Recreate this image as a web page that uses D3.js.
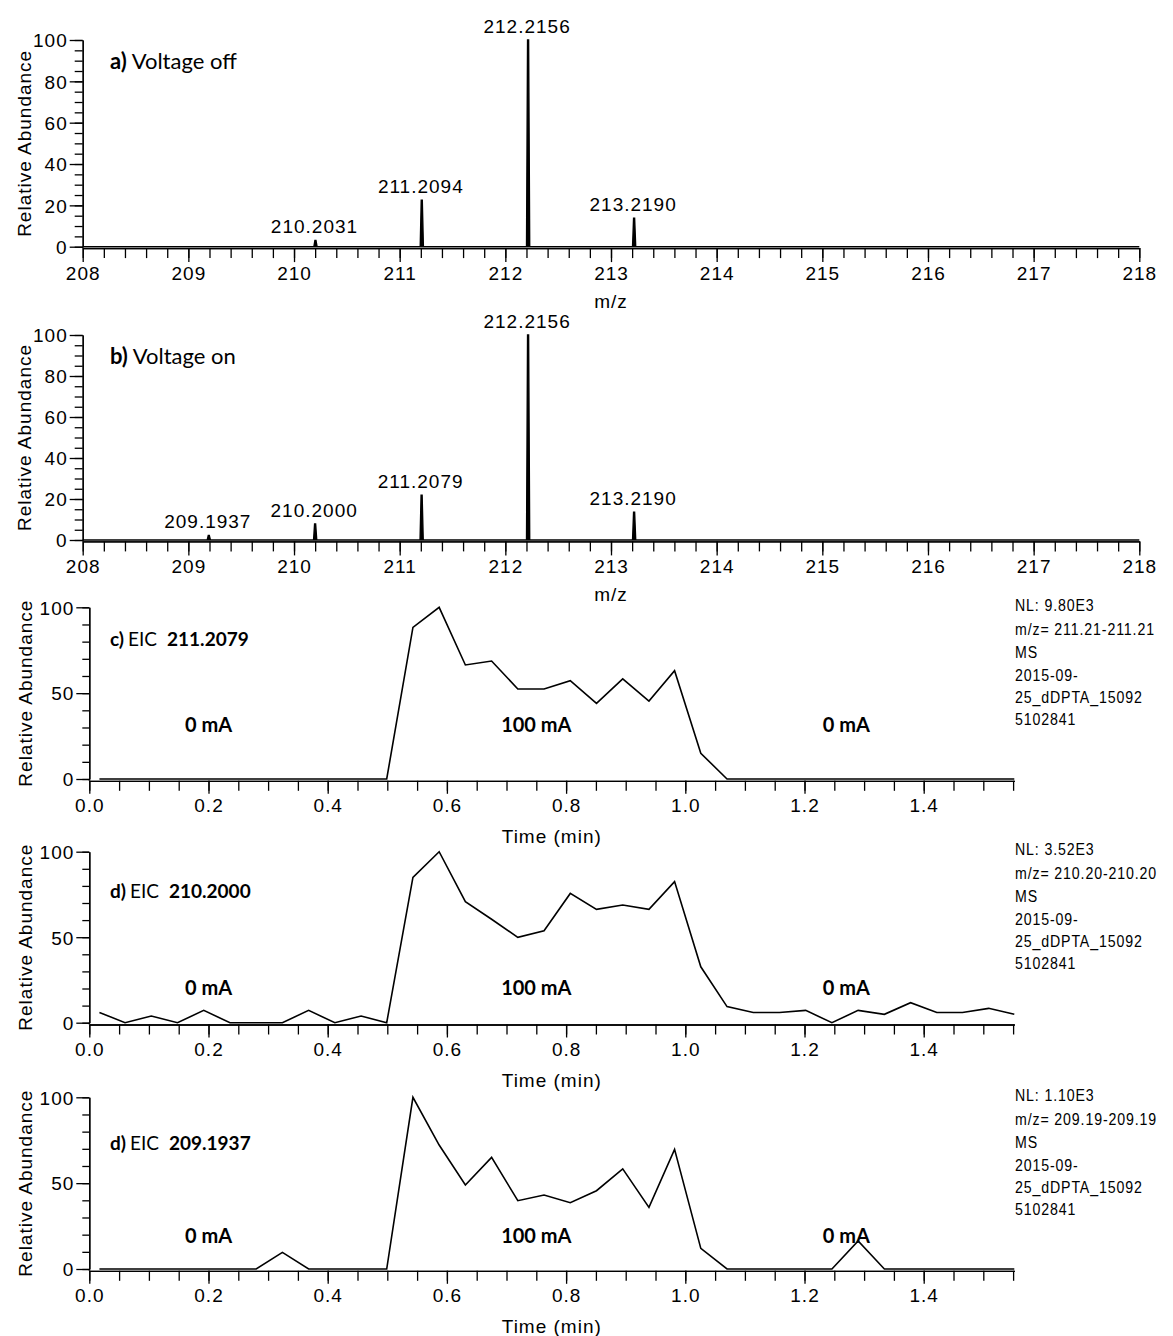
<!DOCTYPE html>
<html><head><meta charset="utf-8">
<script src="https://cdn.jsdelivr.net/npm/d3@7"></script>
<style>body{margin:0;background:#fff}svg{display:block}</style>
</head><body>
<svg id="chart" width="1173" height="1336"></svg>
<script>
// ---------- data ----------
const mzDomain = [208, 218];
const peaksA_mz = [210.2031, 211.2094, 212.2156, 213.2190];
const peaksA_int = [3, 22.5, 100, 13.8];
const peaksA_label = ["210.2031", "211.2094", "212.2156", "213.2190"];
const peaksB_mz = [209.1937, 210.2000, 211.2079, 212.2156, 213.2190];
const peaksB_int = [2.2, 7.8, 21.8, 100, 13.6];
const peaksB_label = ["209.1937", "210.2000", "211.2079", "212.2156", "213.2190"];

const timeDomain = [0, 1.552];
const eicTimes = [0.017,0.060,0.104,0.148,0.192,0.236,0.280,0.324,0.368,0.412,0.456,0.499,
  0.543,0.587,0.631,0.675,0.719,0.763,0.807,0.851,0.895,0.939,0.982,1.026,
  1.070,1.114,1.158,1.202,1.246,1.290,1.334,1.378,1.422,1.465,1.509,1.553];
const eicC = [0,0,0,0,0,0,0,0,0,0,0,0,
  88.3,100,66.4,68.7,52.4,52.4,57.3,44,58.3,45.4,63.1,15,
  0,0,0,0,0,0,0,0,0,0,0,0];
const eicD = [6,0,3.9,0,7.2,0,0,0,7.2,0,3.9,0,
  85,100,70.8,60.5,49.9,53.8,75.6,66.3,68.8,66.3,82.5,32.7,
  9.4,6,6,7.2,0,7.2,4.9,11.7,6,6,8.4,4.9];
const eicE = [0,0,0,0,0,0,0,9.7,0,0,0,0,
  100,72.2,48.9,65,39.8,43.1,38.6,45.6,58.3,35.9,69.7,12,
  0,0,0,0,0,16.3,0,0,0,0,0,0];

const titlesAB = [["a)", " Voltage off"], ["b)", " Voltage on"]];
const eicLabels = [["c)", "EIC", "211.2079"], ["d)", "EIC", "210.2000"], ["d)", "EIC", "209.1937"]];
const nlText = [
  ["NL: 9.80E3", "m/z= 211.21-211.21", "MS", "2015-09-", "25_dDPTA_15092", "5102841"],
  ["NL: 3.52E3", "m/z= 210.20-210.20", "MS", "2015-09-", "25_dDPTA_15092", "5102841"],
  ["NL: 1.10E3", "m/z= 209.19-209.19", "MS", "2015-09-", "25_dDPTA_15092", "5102841"]
];
const currentLabels = ["0 mA", "100 mA", "0 mA"];
const currentTimes = [0.2, 0.75, 1.27];

// ---------- drawing ----------
const svg = d3.select("#chart");
const SANS = "'Liberation Sans', Arial, sans-serif";
const CAL = "Lato, 'Open Sans', sans-serif";

function styleAxis(g) {
  g.select(".domain").attr("stroke", "#000").attr("stroke-width", 1.3);
  g.selectAll(".tick line").attr("stroke", "#000").attr("stroke-width", 1.3);
  g.selectAll(".tick text").attr("fill", "#000").style("font-family", SANS)
    .style("font-size", "19px").style("letter-spacing", "1px");
}

function spectrum(y0, y100, mzs, ints, labels, title) {
  const x = d3.scaleLinear().domain(mzDomain).range([82.7, 1139.3]);
  const y = d3.scaleLinear().domain([0, 100]).range([y0, y100]);
  const axY = y0 + 1.4;
  svg.append("g").attr("transform", `translate(0,${axY})`)
    .call(d3.axisBottom(x).tickValues(d3.range(208, 218.001, 0.2)).tickSize(10).tickSizeOuter(0).tickFormat(""))
    .call(styleAxis);
  const gx = svg.append("g").attr("transform", `translate(0,${axY})`)
    .call(d3.axisBottom(x).tickValues(d3.range(208, 218.001, 1)).tickSize(14).tickSizeOuter(0).tickFormat(d3.format("d")))
    .call(styleAxis);
  gx.selectAll(".tick text").attr("y", 31.5).attr("dy", 0);
  svg.append("g").attr("transform", `translate(82.7,0)`)
    .call(d3.axisLeft(y).tickValues(d3.range(0, 100.1, 5)).tickSize(8).tickSizeOuter(0).tickFormat(""))
    .call(styleAxis);
  const gy = svg.append("g").attr("transform", `translate(82.7,0)`)
    .call(d3.axisLeft(y).tickValues(d3.range(0, 100.1, 20)).tickSize(13).tickSizeOuter(0))
    .call(styleAxis);
  gy.selectAll(".tick text").attr("x", -15).attr("dy", "0.36em");
  svg.append("line").attr("x1", 82.7).attr("x2", 82.7).attr("y1", y0).attr("y2", axY).attr("stroke", "#000").attr("stroke-width", 1.3);

  const pts = [[mzDomain[0], 0]];
  mzs.forEach((m, i) => {
    const w = 0.015;
    pts.push([m - w, 0], [m - w * 0.35, ints[i]], [m + w * 0.3, ints[i]], [m + w, 0]);
  });
  pts.push([mzDomain[1], 0]);
  svg.append("path").datum(pts)
    .attr("d", d3.area().x(d => x(d[0])).y0(y(0)).y1(d => y(d[1])))
    .attr("fill", "#000").attr("stroke", "#000").attr("stroke-width", 1.4).attr("stroke-linejoin", "miter");

  svg.append("g").selectAll("text").data(mzs).join("text")
    .attr("x", d => x(d) - 1).attr("y", (d, i) => y(ints[i]) - 7)
    .attr("text-anchor", "middle").style("font-family", SANS).style("font-size", "19px").style("letter-spacing", "1px")
    .text((d, i) => labels[i]);

  svg.append("text").attr("x", 611).attr("y", y0 + 61).attr("text-anchor", "middle")
    .style("font-family", SANS).style("font-size", "19px").style("letter-spacing", "1px").text("m/z");
  svg.append("text").attr("transform", `translate(24,${(y0 + y100) / 2}) rotate(-90)`).attr("text-anchor", "middle")
    .attr("dy", "0.35em").style("font-family", SANS).style("font-size", "19px").style("letter-spacing", "1px").text("Relative Abundance");

  const t = svg.append("text").attr("x", 110).attr("y", y100 + 29).style("font-family", CAL).style("font-size", "22px");
  t.append("tspan").attr("font-weight", "bold").text(title[0]);
  t.append("tspan").text(title[1]);
}

function eic(y0, y100, values, label, nl, nlBase, labelBase, mABase) {
  const x = d3.scaleLinear().domain(timeDomain).range([89.3, 1014.3]);
  const y = d3.scaleLinear().domain([0, 100]).range([y0, y100]);
  const axY = y0 + 1.8;
  svg.append("g").attr("transform", `translate(0,${axY})`)
    .call(d3.axisBottom(x).tickValues(d3.range(0, 1.5501, 0.05)).tickSize(10).tickSizeOuter(0).tickFormat(""))
    .call(styleAxis);
  const gx = svg.append("g").attr("transform", `translate(0,${axY})`)
    .call(d3.axisBottom(x).tickValues(d3.range(0, 1.5, 0.2)).tickSize(13).tickSizeOuter(0).tickFormat(d3.format(".1f")))
    .call(styleAxis);
  gx.selectAll(".tick text").attr("y", 31.5).attr("dy", 0);
  svg.append("g").attr("transform", `translate(89.3,0)`)
    .call(d3.axisLeft(y).tickValues(d3.range(0, 100.1, 10)).tickSize(7).tickSizeOuter(0).tickFormat(""))
    .call(styleAxis);
  const gy = svg.append("g").attr("transform", `translate(89.3,0)`)
    .call(d3.axisLeft(y).tickValues([0, 50, 100]).tickSize(13).tickSizeOuter(0))
    .call(styleAxis);
  gy.selectAll(".tick text").attr("x", -15).attr("dy", "0.36em");
  svg.append("line").attr("x1", 89.3).attr("x2", 89.3).attr("y1", y0).attr("y2", axY).attr("stroke", "#000").attr("stroke-width", 1.3);

  svg.append("path").datum(eicTimes.map((t, i) => [t, values[i]]))
    .attr("d", d3.line().x(d => x(Math.min(d[0], timeDomain[1]))).y(d => y(d[1])))
    .attr("fill", "none").attr("stroke", "#000").attr("stroke-width", 1.6).attr("stroke-linejoin", "miter");

  svg.append("text").attr("x", (89.3 + 1014.3) / 2).attr("y", y0 + 64).attr("text-anchor", "middle")
    .style("font-family", SANS).style("font-size", "19px").style("letter-spacing", "1px").text("Time (min)");
  svg.append("text").attr("transform", `translate(25,${(y0 + y100) / 2}) rotate(-90)`).attr("text-anchor", "middle")
    .attr("dy", "0.35em").style("font-family", SANS).style("font-size", "19px").style("letter-spacing", "1px").text("Relative Abundance");

  const t = svg.append("text").attr("x", 110).attr("y", labelBase).style("font-family", CAL).style("font-size", "19px");
  t.append("tspan").attr("font-weight", "bold").text(label[0]);
  t.append("tspan").attr("dx", 4).text(label[1]);
  t.append("tspan").attr("dx", 10).attr("font-weight", "bold").text(label[2]);

  svg.append("g").selectAll("text").data(currentLabels).join("text")
    .attr("x", (d, i) => x(currentTimes[i])).attr("y", mABase).attr("text-anchor", "middle")
    .style("font-family", CAL).style("font-size", "20px").attr("font-weight", "bold").text(d => d);

  const offs = [0, 24, 47, 70, 92, 114];
  svg.append("g").selectAll("text").data(nl).join("text")
    .attr("transform", (d, i) => `translate(1015,${nlBase + offs[i]}) scale(0.86,1)`)
    .style("font-family", SANS).style("font-size", "16.5px").style("letter-spacing", "1px").text(d => d);
}

spectrum(246.7, 40, peaksA_mz, peaksA_int, peaksA_label, titlesAB[0]);
spectrum(540, 335, peaksB_mz, peaksB_int, peaksB_label, titlesAB[1]);
eic(779, 607.3, eicC, eicLabels[0], nlText[0], 611, 646, 732);
eic(1022.7, 851.7, eicD, eicLabels[1], nlText[1], 855, 898, 995);
eic(1269, 1097.3, eicE, eicLabels[2], nlText[2], 1101, 1150, 1243);
</script>
</body></html>
